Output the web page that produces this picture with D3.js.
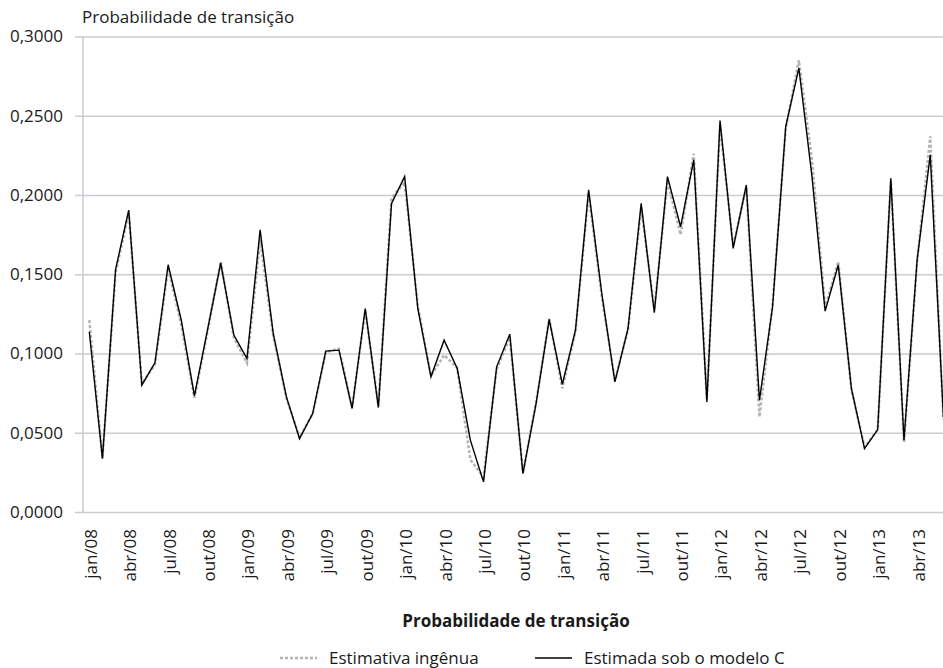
<!DOCTYPE html>
<html>
<head>
<meta charset="utf-8">
<script src="https://cdn.jsdelivr.net/npm/d3@7"></script>
<style>
  body { margin: 0; background: #fff; }
  text { font-family: "Open Sans", "Noto Sans", sans-serif; fill: #1a1a1a; }
</style>
</head>
<body>
<svg width="943" height="668"></svg>
<script>
// months jan/08 .. jun/13
var months = ["jan/08","fev/08","mar/08","abr/08","mai/08","jun/08","jul/08","ago/08","set/08","out/08","nov/08","dez/08",
  "jan/09","fev/09","mar/09","abr/09","mai/09","jun/09","jul/09","ago/09","set/09","out/09","nov/09","dez/09",
  "jan/10","fev/10","mar/10","abr/10","mai/10","jun/10","jul/10","ago/10","set/10","out/10","nov/10","dez/10",
  "jan/11","fev/11","mar/11","abr/11","mai/11","jun/11","jul/11","ago/11","set/11","out/11","nov/11","dez/11",
  "jan/12","fev/12","mar/12","abr/12","mai/12","jun/12","jul/12","ago/12","set/12","out/12","nov/12","dez/12",
  "jan/13","fev/13","mar/13","abr/13","mai/13","jun/13"]

var tickLabels = ["jan/08","abr/08","jul/08","out/08","jan/09","abr/09","jul/09","out/09","jan/10","abr/10","jul/10",
  "out/10","jan/11","abr/11","jul/11","out/11","jan/12","abr/12","jul/12","out/12","jan/13","abr/13"]

var yTicks = [0, 0.05, 0.10, 0.15, 0.20, 0.25, 0.30]

// estimated under model C (black)
var modeloC = [0.1137,0.0337,0.1530,0.1905,0.0800,0.0943,0.1560,0.1210,0.0733,0.1150,0.1570,0.1116,
  0.0968,0.1780,0.1126,0.0726,0.0463,0.0621,0.1015,0.1021,0.0653,0.1284,0.0659,0.1947,
  0.2116,0.1284,0.0853,0.1084,0.0905,0.0453,0.0190,0.0916,0.1122,0.0242,0.0684,0.1215,
  0.0806,0.1147,0.2032,0.1380,0.0821,0.1158,0.1947,0.1257,0.2116,0.1800,0.2221,0.0695,
  0.2470,0.1663,0.2063,0.0705,0.1295,0.2432,0.2800,0.2116,0.1267,0.1558,0.0779,0.0400,
  0.0520,0.2105,0.0453,0.1590,0.2253,0.0600]

// naive estimate (grey dashed)
var ingenua = [0.1210,0.0340,0.1510,0.1890,0.0810,0.0930,0.1540,0.1180,0.0720,0.1140,0.1580,0.1100,
  0.0940,0.1720,0.1110,0.0720,0.0470,0.0620,0.1010,0.1030,0.0660,0.1270,0.0670,0.1980,
  0.2080,0.1300,0.0860,0.0990,0.0910,0.0330,0.0220,0.0900,0.1100,0.0250,0.0690,0.1220,
  0.0780,0.1140,0.2010,0.1360,0.0830,0.1150,0.1920,0.1280,0.2090,0.1750,0.2260,0.0710,
  0.2440,0.1680,0.2050,0.0600,0.1310,0.2420,0.2850,0.2220,0.1290,0.1580,0.0770,0.0410,
  0.0520,0.2090,0.0440,0.1580,0.2370,0.0580]

var svg = d3.select("svg")

var gridLeft = 75, axisX = 83, plotRight = 943, plotTop = 36.5, plotBottom = 512

var x = d3.scaleLinear()
  .domain([0, months.length - 1])
  .range([89.3, 943.4])

var y = d3.scaleLinear()
  .domain([0, 0.3])
  .range([plotBottom, plotTop])

var pt = d3.formatLocale({decimal: ",", thousands: ".", grouping: [3], currency: ["R$", ""]})
var fmt = pt.format(".4f")

// grid + y labels
var yAxis = svg.append("g")
  .attr("transform", `translate(${gridLeft},0)`)
  .call(d3.axisLeft(y)
    .tickValues(yTicks)
    .tickSize(-(plotRight - gridLeft))
    .tickPadding(12)
    .tickFormat(fmt))
yAxis.select(".domain").remove()
yAxis.selectAll(".tick line")
  .attr("stroke", "#c9cdd1")
  .attr("stroke-width", 1.5)
yAxis.selectAll(".tick text")
  .style("font-size", "17px")
  .attr("fill", "#1a1a1a")

// left axis line
svg.append("line")
  .attr("x1", axisX).attr("x2", axisX)
  .attr("y1", plotTop).attr("y2", plotBottom)
  .attr("stroke", "#c9cdd1")
  .attr("stroke-width", 1.5)

// x labels
var xAxis = svg.append("g")
  .attr("transform", `translate(0,${plotBottom})`)
  .call(d3.axisBottom(x)
    .tickValues(tickLabels.map(d => months.indexOf(d)))
    .tickSize(0)
    .tickFormat(i => months[i]))
xAxis.select(".domain").remove()
xAxis.selectAll(".tick text")
  .style("font-size", "17px")
  .attr("fill", "#1a1a1a")
  .attr("text-anchor", "end")
  .attr("transform", "rotate(-90)")
  .attr("x", -17)
  .attr("y", 1)
  .attr("dy", "0.35em")

var line = d3.line()
  .x((d, i) => x(i))
  .y(d => y(d))

svg.append("path")
  .datum(ingenua)
  .attr("d", line)
  .attr("fill", "none")
  .attr("stroke", "#b3b3b3")
  .attr("stroke-width", 2.5)
  .attr("stroke-dasharray", "3,2")

svg.append("path")
  .datum(modeloC)
  .attr("d", line)
  .attr("fill", "none")
  .attr("stroke", "#000")
  .attr("stroke-width", 1.4)
  .attr("stroke-linejoin", "miter")

// y title
svg.append("text")
  .attr("x", 82)
  .attr("y", 23)
  .style("font-size", "17px")
  .text("Probabilidade de transição")

// x title
svg.append("text")
  .attr("x", 516)
  .attr("y", 627)
  .attr("text-anchor", "middle")
  .style("font-size", "17px")
  .style("font-weight", "bold")
  .text("Probabilidade de transição")

// legend
var legend = [
  {label: "Estimativa ingênua", x: 280, color: "#b3b3b3", dash: "3,2", w: 2.5},
  {label: "Estimada sob o modelo C", x: 535, color: "#000", dash: null, w: 1.4}
]
var lg = svg.append("g").selectAll("g")
  .data(legend)
  .enter()
  .append("g")
  .attr("transform", d => `translate(${d.x},658)`)
lg.append("line")
  .attr("x1", 0).attr("x2", 37)
  .attr("stroke", d => d.color)
  .attr("stroke-width", d => d.w)
  .attr("stroke-dasharray", d => d.dash)
lg.append("text")
  .attr("x", 49)
  .attr("y", 5.5)
  .style("font-size", "17px")
  .text(d => d.label)
</script>
</body>
</html>
